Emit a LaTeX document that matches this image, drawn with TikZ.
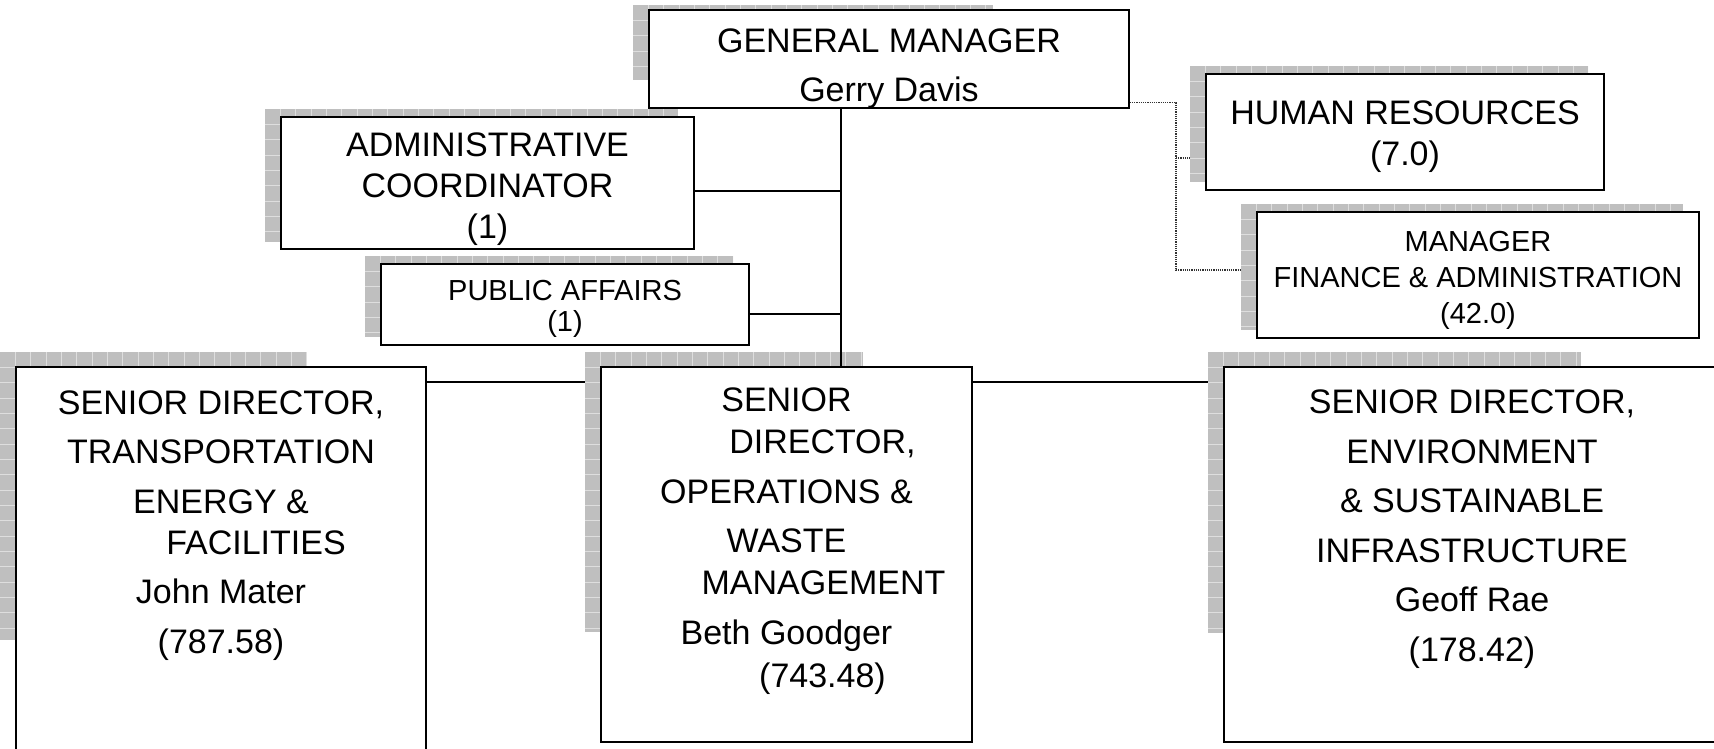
\documentclass[tikz,border=0pt]{standalone}
\usepackage{fontspec}
\setmainfont{Liberation Sans}
\pgfdeclarelayer{bg}
\pgfdeclarelayer{shade}
\pgfsetlayers{bg,shade,main}
\newcommand{\gridshade}[4]{%
  \begin{scope}
    \clip (#1,#2) rectangle (#3,#4);
    \fill[shadefill] (#1,#2) rectangle (#3,#4);
    \foreach \k in {1,...,40} {
      \draw[shadegrid] ({#1+15.33*\k},#2) -- ({#1+15.33*\k},#4);
      \draw[shadegrid] (#1,{#2+15.33*\k}) -- (#3,{#2+15.33*\k});
    }
  \end{scope}}
\begin{document}
\begin{tikzpicture}[x=1pt,y=-1pt,
    box/.style={draw,fill=white,line width=1.5pt,inner sep=0pt},
    big/.style={font=\fontsize{34}{49.5}\selectfont,align=center,anchor=base,inner sep=0pt},
    small/.style={font=\fontsize{29}{36}\selectfont,align=center,anchor=base,inner sep=0pt},
    link/.style={line width=1.3pt},
    dots/.style={densely dotted,line width=1.2pt,black!80},
    shadefill/.style={fill=black!25},
    shadegrid/.style={draw=black!13,line width=0.8pt}]
    \useasboundingbox (0,0) rectangle (1714,749);
    %% boxes
    \node[box,minimum width=480,minimum height=98] (gm) at (889,59) {};
    \node[box,minimum width=413,minimum height=132] (adm) at (487.5,183) {};
    \node[box,minimum width=368,minimum height=81] (pa) at (565,304.5) {};
    \node[box,minimum width=398,minimum height=116] (hr) at (1405,132) {};
    \node[box,minimum width=442,minimum height=126] (fin) at (1478,275) {};
    \node[box,minimum width=410,minimum height=403] (lsd) at (221,568.5) {};
    \node[box,minimum width=371,minimum height=375] (msd) at (786.5,554.5) {};
    \node[box,minimum width=496,minimum height=375] (rsd) at (1472,554.5) {};
    %% texts (placed at the baseline of their last line)
    \node[big] (gmtxt) at (889,102) {GENERAL MANAGER\\Gerry Davis};
    \node[big] (admtxt) at (487.5,238) {ADMINISTRATIVE\\[-8.5pt]COORDINATOR\\[-8.5pt](1)};
    \node[small] (patxt) at (565,331) {PUBLIC AFFAIRS\\[-5pt](1)};
    \node[big] (hrtxt) at (1405,166) {HUMAN RESOURCES\\[-7.5pt](7.0)};
    \node[small] (fintxt) at (1478,323) {MANAGER\\FINANCE \& ADMINISTRATION\\(42.0)};
    \node[big] (lsdtxt) at (221,653) {SENIOR DIRECTOR,\\TRANSPORTATION\\ENERGY \&\\[-8.5pt]\hspace*{70pt}FACILITIES\\John Mater\\(787.58)};
    \node[big] (msdtxt) at (786.5,687) {SENIOR\\[-7.5pt]\hspace*{72pt}DIRECTOR,\\OPERATIONS \&\\WASTE\\[-7.5pt]\hspace*{74pt}MANAGEMENT\\Beth Goodger\\[-6.5pt]\hspace*{72pt}(743.48)};
    \node[big] (rsdtxt) at (1472,661) {SENIOR DIRECTOR,\\ENVIRONMENT\\\& SUSTAINABLE\\INFRASTRUCTURE\\Geoff Rae\\(178.42)};
    %% connectors
    \coordinate (tk) at (841,0);
    \coordinate (bar) at (0,382);
    \coordinate (hrj) at (1176,158);
    \coordinate (finj) at (1176,270);
    \begin{pgfonlayer}{bg}
        \draw[link] (lsd.east |- bar) -- (rsd.west |- bar);
        \draw[dots] ([yshift=6pt]gm.south east) -| (finj) -- (finj -| fin.west);
        \draw[dots] (hrj) -- (hrj -| hr.west);
    \end{pgfonlayer}
    \draw[link] (tk |- gm.south) -- (tk |- msd.north);
    \draw[link] ([yshift=-8pt]adm.east) -- ([yshift=-8pt]adm.east -| tk);
    \draw[link] ([yshift=-9.5pt]pa.east) -- ([yshift=-9.5pt]pa.east -| tk);
    %% shadows
    \begin{pgfonlayer}{shade}
        \gridshade{633}{5}{993}{80}
        \gridshade{265}{109}{678}{242}
        \gridshade{365}{256}{733}{337}
        \gridshade{1190}{66}{1588}{182}
        \gridshade{1241}{204}{1683}{330}
        \gridshade{0}{352}{307}{640}
        \gridshade{585}{352}{863}{632}
        \gridshade{1208}{352}{1581}{633}
    \end{pgfonlayer}
\end{tikzpicture}
\end{document}
